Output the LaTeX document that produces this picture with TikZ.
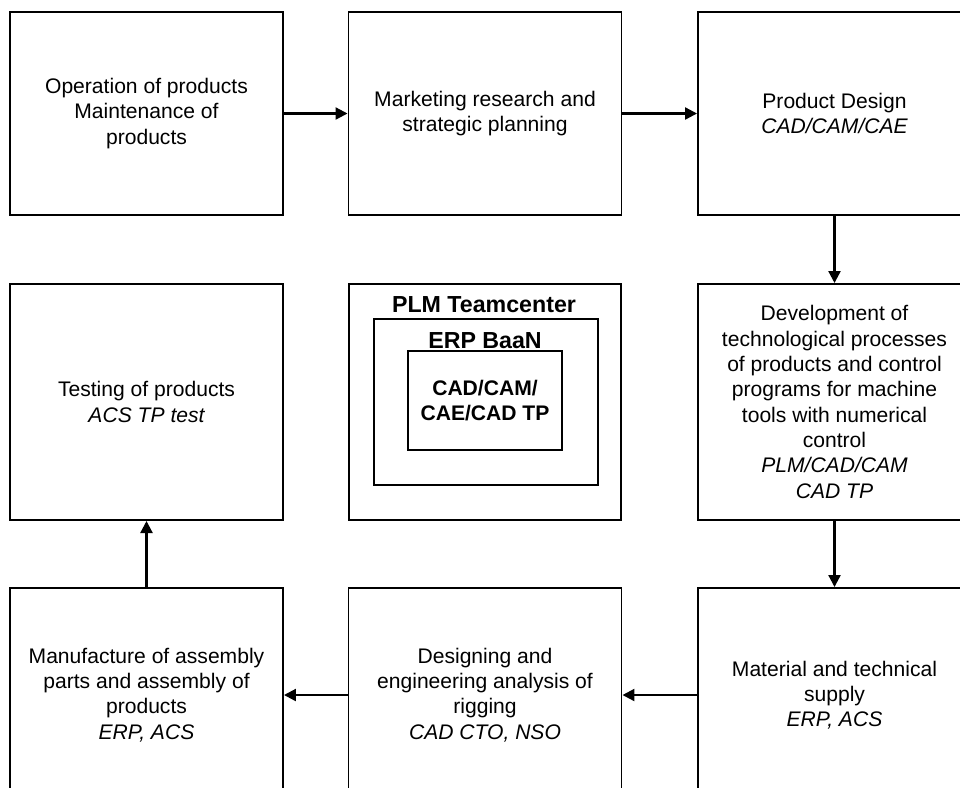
\documentclass[tikz,border=0pt]{standalone}
\usepackage{fontspec}
\setmainfont{Liberation Sans}
\usetikzlibrary{arrows.meta, positioning}

\begin{document}
\begin{tikzpicture}[>={Triangle[length=3mm, width=3mm]},
    box/.style={draw, line width=1.4pt, align=center, inner sep=0pt,
        minimum width=6.825cm, font=\fontsize{15pt}{18pt}\selectfont},
    frame/.style={draw, line width=1.4pt, inner sep=0pt},
    heading/.style={font=\fontsize{16.5pt}{19pt}\selectfont\bfseries},
    flow/.style={->, line width=1.6pt}]

    \useasboundingbox (0,0) rectangle (24,-19.675);

    % =================================================================
    % Row 1
    % =================================================================
    \node[box, minimum height=5.075cm] (operation) at (3.6625,-2.8375)
        {Operation of products\\ Maintenance of\\ products};
    \node[box, minimum height=5.075cm] (marketing) at (12.125,-2.8375)
        {Marketing research and\\ strategic planning};
    \node[box, minimum height=5.075cm] (design) at (20.8625,-2.8375)
        {Product Design\\ \itshape CAD/CAM/CAE};

    % =================================================================
    % Row 2
    % =================================================================
    \node[box, minimum height=5.9cm] (testing) at (3.6625,-10.05)
        {Testing of products\\ \itshape ACS TP test};
    \node[box, minimum height=5.9cm] (develop) at (20.8625,-10.05)
        {Development of\\ technological processes\\ of products and control\\
         programs for machine\\ tools with numerical\\ control\\
         \itshape PLM/CAD/CAM\\ \itshape CAD TP};

    % Nested systems in the middle
    \node[frame, minimum width=6.8cm, minimum height=5.9cm] (plm) at (12.125,-10.05) {};
    \node[heading] (plmtitle) at (12.1,-7.625) {PLM Teamcenter};
    \node[frame, minimum width=5.6cm, minimum height=4.15cm] (erp) at (12.15,-10.05) {};
    \node[heading] (erptitle) at (12.125,-8.525) {ERP BaaN};
    \node[frame, minimum width=3.85cm, minimum height=2.475cm, align=center,
        font=\fontsize{15pt}{18pt}\selectfont\bfseries] (cad) at (12.125,-10.0125)
        {CAD/CAM/\\ CAE/CAD TP};

    % =================================================================
    % Row 3
    % =================================================================
    \node[box, minimum height=5.35cm] (manufacture) at (3.6625,-17.375)
        {Manufacture of assembly\\ parts and assembly of\\ products\\ \itshape ERP, ACS};
    \node[box, minimum height=5.35cm] (rigging) at (12.125,-17.375)
        {Designing and\\ engineering analysis of\\ rigging\\ \itshape CAD CTO, NSO};
    \node[box, minimum height=5.35cm] (supply) at (20.8625,-17.375)
        {Material and technical\\ supply\\ \itshape ERP, ACS};

    % Arrows
    \draw[flow] (operation) -- (marketing);
    \draw[flow] (marketing) -- (design);
    \draw[flow] (design) -- (develop);
    \draw[flow] (develop) -- (supply);
    \draw[flow] (supply) -- (rigging);
    \draw[flow] (rigging) -- (manufacture);
    \draw[flow] (manufacture) -- (testing);

\end{tikzpicture}
\end{document}
